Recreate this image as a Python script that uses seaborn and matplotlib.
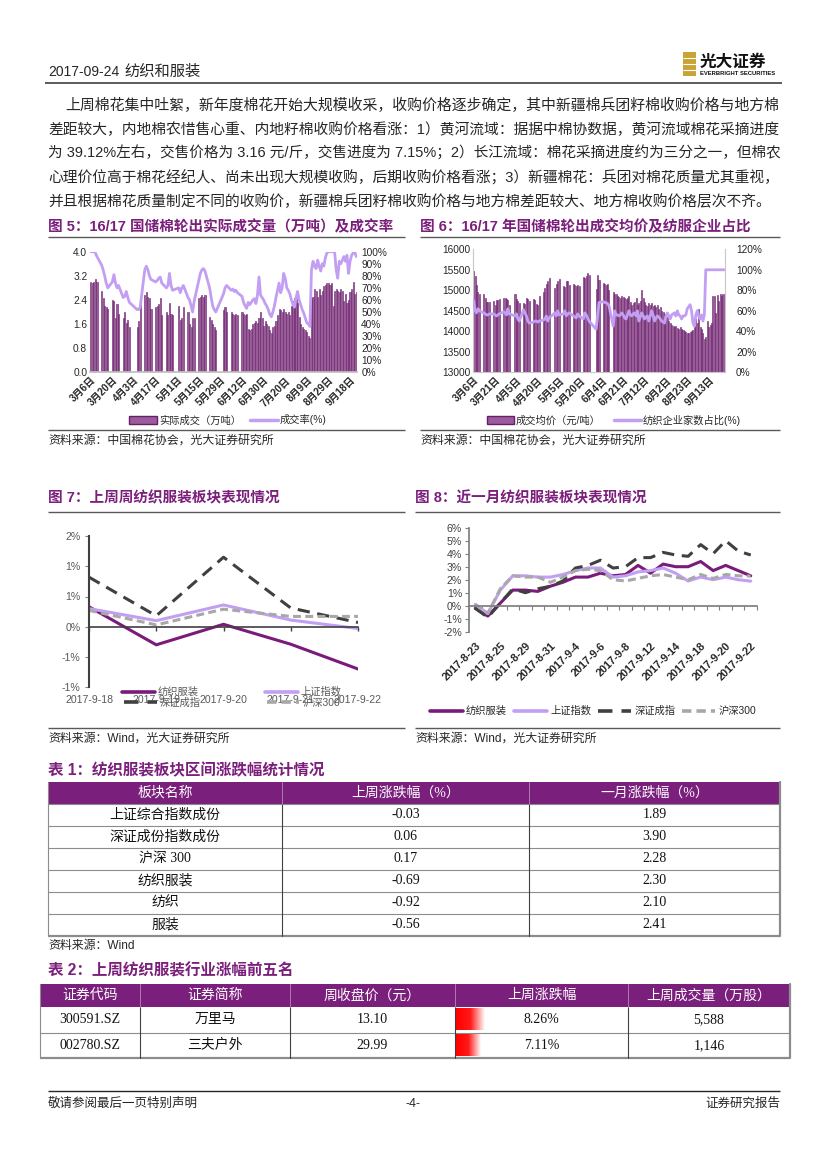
import numpy as np
import pandas as pd
import seaborn as sns
import matplotlib.pyplot as plt
from matplotlib.lines import Line2D
from matplotlib.patches import Rectangle, Patch
from matplotlib.colors import LinearSegmentedColormap

sns.set_theme(style='white')
plt.rcParams['font.family'] = ['Liberation Sans', 'Noto Sans CJK SC', 'DejaVu Sans']
plt.rcParams['axes.unicode_minus'] = False
SERIF = ['Liberation Serif', 'Noto Sans CJK SC', 'DejaVu Sans']

# ---------------- data ----------------
# 图5: 3/6 - 6/11 by calendar day (weekends / holidays blank), then trading days
labels_5 = ['3月6日', '3月20日', '4月3日', '4月17日', '5月1日', '5月15日', '5月29日',
            '6月12日', '6月30日', '7月20日', '8月9日', '8月29日', '9月18日']
N = None
vol_5 = [3.0, 2.95, 3.0, 3.1, 3.0, N, N,
         2.7, 2.45, 2.2, 2.15, 2.1, N, N,
         2.4, 2.35, 1.8, 2.25, 1.95, N, N,
         1.8, 2.0, 1.65, 1.75, 1.5, N, N,
         N, N, 1.5, 1.7, 2.3, N, N,
         2.55, 2.65, 2.5, 2.45, 2.1, N, N,
         2.15, 2.2, 2.25, 2.45, 1.9, N, N,
         2.0, 1.9, 2.3, 1.95, 1.9, N, N,
         N, 2.2, 1.75, 1.8, 2.15, N, N,
         2.0, 1.6, 1.5, 1.8, 1.8, N, N,
         2.45, 2.5, 2.55, 2.5, 2.55, N, N,
         1.85, 1.75, 1.6, 1.5, 1.4, N, N,
         N, N, 2.05, 2.15, 2.0, N, N,
         2.0, 1.95, 1.9, 1.95, 1.9, N, N,
         2.0, 1.95, 1.9, 1.95, 1.45, 1.4, 1.45, 1.6, 1.65, 1.7,
         1.65, 1.8, 2.0, 1.8, 1.55, 1.7, 1.6, 1.55, 1.4, 1.3,
         1.5, 1.55, 1.7, 1.9, 2.1, 2.05, 2.0, 2.1, 2.0, 1.95,
         2.0, 1.9, 2.2, 2.35, 2.45, 2.5, 2.3, 1.85, 1.6, 1.5,
         1.45, 1.4, 1.35, 1.2, 1.15, 2.45, 2.5, 2.75, 2.7, 2.5,
         2.75, 2.55, 2.7, 2.85, 2.9, 2.95, 2.95, 2.9, 2.95, 2.2,
         2.7, 2.75, 2.7, 2.65, 2.75, 2.7, 2.35, 2.6, 2.3, 2.4,
         2.65, 2.75, 3.0, 2.6, 2.65]
rate_5 = [100, 100, 100, 99, 96, N, N,
          89, 85, 80, 74, 70, N, N,
          75, 81, 74, 70, 72, N, N,
          62, 63, 67, 62, 58, N, N,
          N, N, 52, 52, 54, N, N,
          85, 88, 85, 80, 77, N, N,
          75, 76, 78, 79, 74, N, N,
          70, 72, 82, 72, 68, N, N,
          N, 70, 66, 70, 72, N, N,
          62, 60, 55, 50, 59, N, N,
          76, 82, 85, 86, 84, N, N,
          70, 62, 55, 52, 50, N, N,
          N, N, 65, 70, 72, N, N,
          68, 69, 67, 68, 66, N, N,
          63, 58, 55, 53, 58, 56, 58, 60, 61, 57,
          64, 79, 64, 62, 60, 57, 55, 52, 48, 46,
          50, 55, 62, 68, 74, 66, 70, 82, 78, 70,
          68, 65, 60, 56, 54, 62, 67, 60, 56, 52,
          49, 45, 41, 40, 38, 85, 92, 88, 86, 93,
          88, 84, 90, 88, 95, 99, 100, 100, 100, 100,
          100, 85, 78, 92, 90, 93, 96, 92, 97, 82,
          92, 97, 99, 100, 96]

# 图6
labels_6 = ['3月6日', '3月21日', '4月5日', '4月20日', '5月5日', '5月20日', '6月4日',
            '6月21日', '7月12日', '8月2日', '8月23日', '9月13日']
price_6 = [15480, 15350, 15130, 14950, 14900, N, N,
           14900, 14800, 14720, 14720, 14720, N, N,
           14730, 14650, 14760, 14770, 14780, N, N,
           14800, 14820, 14780, 14760, 14650, N, N,
           N, 14920, 14780, 14740, 14700, N, N,
           14700, 14660, 14800, 14780, 14750, N, N,
           14780, 14760, 14660, 14650, 14850, N, N,
           14950, 15050, 15150, 15220, 15300, N, N,
           N, 15050, 15150, 15220, 15270, N, N,
           15100, 15080, 15220, 15230, 15120, N, N,
           15150, 15120, 15100, 15130, 15100, N, N,
           15330, 15300, 15350, 15430, 15380, N, N,
           N, N, 15040, 15380, 15250, N, N,
           15180, 15160, 15130, 15150, 15000, N, N,
           14950, 14900, 14920, 14850, 14830, 14820, 14850, 14830, 14800, 14780,
           14800, 14850, 14720, 14650, 14700, 14720, 14800, 14650, 14700, 14750,
           15000, 14800, 14720, 14650, 14620, 14700, 14650, 14680, 14620, 14650,
           14600, 14650, 14550, 14600, 14500, 14480, 14420, 14380, 14350, 14250,
           14200, 14150, 14120, 14100, 14120, 14080, 14050, 14100, 14050, 14020,
           14000, 13980, 13960, 13950, 13980, 14000, 14020, 14100, 14300, 14200,
           14550, 14100, 14050, 13950, 13800, 13850, 14250, 14100, 14150, 14200,
           14850, 14870, 14450, 14880, 14750, 14900, 14850, 14920, 14900]
share_6 = [70, 60, 58, 62, 60, N, N,
           58, 57, 56, 56, 57, N, N,
           57, 56, 55, 56, 57, N, N,
           59, 58, 56, 62, 57, N, N,
           N, 55, 57, 52, 50, N, N,
           61, 58, 55, 50, 48, N, N,
           49, 50, 50, 49, 50, N, N,
           51, 52, 55, 50, 53, N, N,
           N, 58, 55, 60, 56, N, N,
           57, 60, 55, 57, 58, N, N,
           55, 54, 53, 57, 55, N, N,
           52, 58, 56, 53, 50, N, N,
           N, N, 42, 55, 68, N, N,
           69, 68, 68, 67, 65, N, N,
           45, 60, 56, 56, 55, 56, 58, 56, 53, 52,
           56, 60, 56, 55, 57, 58, 55, 60, 50, 54,
           58, 55, 52, 54, 55, 50, 55, 60, 56, 50,
           53, 55, 54, 52, 50, 49, 48, 55, 58, 55,
           52, 56, 57, 58, 55, 60, 56, 55, 52, 55,
           55, 56, 62, 64, 66, 60, 48, 45, 56, 60,
           55, 52, 56, 50, 56, 100, 100, 100, 100, 100,
           100, 100, 100, 100, 100, 100, 100, 100, 100]

# 图7
dates_7 = ['2017-9-18', '2017-9-19', '2017-9-20', '2017-9-21', '2017-9-22']
tex_7 = [0.33, -0.30, 0.04, -0.29, -0.70]
sh_7 = [0.30, 0.10, 0.36, 0.11, -0.03]
sz_7 = [0.82, 0.18, 1.15, 0.31, 0.07]
hs_7 = [0.27, 0.03, 0.29, 0.17, 0.17]
yticks_7 = [-1.0, -0.5, 0.0, 0.5, 1.0, 1.5]
ylabels_7 = ['-1%', '-1%', '0%', '1%', '1%', '2%']

# 图8
dates_8 = ['2017-8-23', '2017-8-24', '2017-8-25', '2017-8-28', '2017-8-29', '2017-8-30',
           '2017-8-31', '2017-9-1', '2017-9-4', '2017-9-5', '2017-9-6', '2017-9-7',
           '2017-9-8', '2017-9-11', '2017-9-12', '2017-9-13', '2017-9-14', '2017-9-15',
           '2017-9-18', '2017-9-19', '2017-9-20', '2017-9-21', '2017-9-22']
tex_8 = [-0.2, -0.8, 0.2, 1.2, 1.2, 1.1, 1.5, 1.8, 2.2, 2.2, 2.5, 2.3,
         2.4, 3.1, 2.5, 3.2, 3.0, 3.0, 3.4, 2.7, 3.1, 2.7, 2.3]
sh_8 = [0.1, -0.6, 1.2, 2.3, 2.3, 2.2, 2.2, 2.4, 2.7, 2.9, 2.9, 2.2,
        2.3, 2.6, 2.7, 2.9, 2.5, 1.9, 2.2, 2.0, 2.2, 2.0, 1.89]
sz_8 = [-0.2, -0.9, 0.2, 1.3, 1.0, 1.3, 1.5, 1.9, 2.9, 3.1, 3.5, 2.9,
        3.0, 3.7, 3.7, 4.1, 3.9, 3.8, 4.7, 4.0, 5.0, 4.2, 3.9]
hs_8 = [0.1, -0.6, 1.3, 2.3, 2.2, 2.2, 1.8, 2.2, 2.7, 2.8, 2.7, 2.0,
        1.9, 2.1, 2.3, 2.4, 2.2, 2.0, 2.4, 2.1, 2.4, 2.3, 2.28]
series_names = ['纺织服装', '上证指数', '深证成指', '沪深300']

# 表1
t1_header = ['板块名称', '上周涨跌幅（%）', '一月涨跌幅（%）']
t1_sector = ['上证综合指数成份', '深证成份指数成份', '沪深 300', '纺织服装', '纺织', '服装']
t1_week = ['-0.03', '0.06', '0.17', '-0.69', '-0.92', '-0.56']
t1_month = ['1.89', '3.90', '2.28', '2.30', '2.10', '2.41']

# 表2
t2_header = ['证券代码', '证券简称', '周收盘价（元）', '上周涨跌幅', '上周成交量（万股）']
t2_code = ['300591.SZ', '002780.SZ']
t2_name = ['万里马', '三夫户外']
t2_close = ['13.10', '29.99']
t2_chg = [8.26, 7.11]
t2_vol = ['5,588', '1,146']

text_lines = [
    '上周棉花集中吐絮，新年度棉花开始大规模收采，收购价格逐步确定，其中新疆棉兵团籽棉收购价格与地方棉',
    '差距较大，内地棉农惜售心重、内地籽棉收购价格看涨：1）黄河流域：据据中棉协数据，黄河流域棉花采摘进度',
    '为 39.12%左右，交售价格为 3.16 元/斤，交售进度为 7.15%；2）长江流域：棉花采摘进度约为三分之一，但棉农',
    '心理价位高于棉花经纪人、尚未出现大规模收购，后期收购价格看涨；3）新疆棉花：兵团对棉花质量尤其重视，',
    '并且根据棉花质量制定不同的收购价，新疆棉兵团籽棉收购价格与地方棉差距较大、地方棉收购价格层次不齐。',
]

# ---------------- styling ----------------
W, H = 827, 1169
TITLE_C = '#7B1E7C'
BAR_F = '#9A5C9A'
BAR_E = '#6A1C6A'
LAV = '#C29FF3'
DARKP = '#7A1A7B'
DGRAY = '#404040'
LGRAY = '#A8A8A8'
TXT = '#262626'
RULE = '#595959'

fig = plt.figure(figsize=(8.27, 11.69), dpi=100)
pg = fig.add_axes([0, 0, 1, 1])
pg.set_xlim(0, W)
pg.set_ylim(H, 0)
pg.axis('off')
rend = fig.canvas.get_renderer()


def ax_px(l, t, r, b):
    a = fig.add_axes([l / W, 1 - b / H, (r - l) / W, (b - t) / H])
    a.set_facecolor('none')
    return a


def hline(x0, x1, y, c=RULE, lw=1.0):
    pg.plot([x0, x1], [y, y], color=c, lw=lw, solid_capstyle='butt')


def put(x, y, s, size=9, color=TXT, ha='left', va='center', **kw):
    return pg.text(x, y, s, fontsize=size, color=color, ha=ha, va=va, **kw)


# header
put(48, 72, '2017-09-24', size=10)
put(124, 72, '纺织和服装', size=11)
hline(45, 782, 83, c=DGRAY, lw=1.2)
pg.add_patch(Rectangle((683, 52), 13, 24, facecolor='#C9A435', edgecolor='none'))
for yy in (58, 64, 70):
    hline(683, 696, yy, c='white', lw=0.8)
put(700, 62, '光大证券', size=12, color='#111', fontweight='bold')
put(700, 73.5, 'EVERBRIGHT SECURITIES', size=4.2, color='#111', fontweight='bold')

# paragraph: lines 1-4 fill the column width, the last line uses their mean size
sizes = []
for i, line in enumerate(text_lines):
    x0 = 65 if i == 0 else 48
    t = put(x0, 105 + 24.2 * i, line, size=11)
    if i < len(text_lines) - 1:
        w = t.get_window_extent(rend).width
        t.set_fontsize(11 * (780 - x0) / w)
        sizes.append(11 * (780 - x0) / w)
    else:
        t.set_fontsize(np.mean(sizes))

# titles and rules
TS = 10.5
put(48, 227, '图 5：16/17 国储棉轮出实际成交量（万吨）及成交率', size=TS, color=TITLE_C, fontweight='bold')
put(420, 227, '图 6：16/17 年国储棉轮出成交均价及纺服企业占比', size=TS, color=TITLE_C, fontweight='bold')
hline(48, 405, 237)
hline(420, 780, 237)
hline(48, 405, 430)
hline(420, 780, 430)
put(48, 441, '资料来源：中国棉花协会，光大证券研究所', size=8.6)
put(420, 441, '资料来源：中国棉花协会，光大证券研究所', size=8.6)

put(48, 498, '图 7：上周周纺织服装板块表现情况', size=TS, color=TITLE_C, fontweight='bold')
put(415, 498, '图 8：近一月纺织服装板块表现情况', size=TS, color=TITLE_C, fontweight='bold')
hline(48, 405, 512)
hline(415, 780, 512)
hline(48, 405, 728)
hline(415, 780, 728)
put(48, 739, '资料来源：Wind，光大证券研究所', size=8.6)
put(415, 739, '资料来源：Wind，光大证券研究所', size=8.6)


def rot_labels(ax, size):
    for lb in ax.get_xticklabels():
        lb.set_rotation(45)
        lb.set_ha('right')
        lb.set_rotation_mode('anchor')
        lb.set_fontsize(size)
        lb.set_fontweight('bold')
        lb.set_color(TXT)


# ---------------- 图5 ----------------
ax5 = ax_px(90, 251.7, 357, 372.3)
df5 = pd.DataFrame({'x': np.arange(len(vol_5)), 'vol': vol_5, 'rate': rate_5}).astype(float)
sns.barplot(data=df5.dropna(subset=['vol']), x='x', y='vol', native_scale=True, width=0.72,
            color=BAR_F, saturation=1, edgecolor=BAR_E, linewidth=0.4, errorbar=None, ax=ax5)
ax5.set_xlim(-0.5, len(vol_5) - 0.5)
ax5.set_ylim(0, 4)
ax5.set_yticks(np.arange(0, 4.01, 0.8))
ax5.set_yticklabels([f'{v:.1f}' for v in np.arange(0, 4.01, 0.8)])
ax5.set_xticks([14 * i for i in range(len(labels_5))])
ax5.set_xticklabels(labels_5)
ax5.set(xlabel='', ylabel='')
for s in ['top', 'right', 'left']:
    ax5.spines[s].set_visible(False)
ax5.spines['bottom'].set_color('#BFBFBF')
ax5.tick_params(axis='both', length=0, labelsize=7.3, colors=TXT, pad=2)
rot_labels(ax5, 7.2)
ax5r = ax5.twinx()
sns.lineplot(data=df5.dropna(subset=['rate']), x='x', y='rate', color=LAV, linewidth=2.0, ax=ax5r)
ax5r.set_ylim(0, 100)
ax5r.set_yticks(range(0, 101, 10))
ax5r.set_yticklabels([f'{v}%' for v in range(0, 101, 10)])
ax5r.set(xlabel='', ylabel='')
for s in ax5r.spines.values():
    s.set_visible(False)
ax5r.tick_params(axis='y', length=0, labelsize=7.3, colors=TXT, pad=3)
fig.legend([Patch(facecolor=BAR_F, edgecolor=BAR_E), Line2D([], [], color=LAV, lw=2.5)],
           ['实际成交（万吨）', '成交率(%)'], loc='center', bbox_to_anchor=(228 / W, 1 - 420 / H),
           ncol=2, frameon=False, fontsize=7.4, handlelength=2.7, handleheight=0.8,
           handletextpad=0.2, columnspacing=0.9, borderpad=0, labelcolor=TXT)

# ---------------- 图6 ----------------
ax6 = ax_px(473, 249.3, 725, 372.3)
df6 = pd.DataFrame({'x': np.arange(len(price_6)), 'price': price_6, 'share': share_6}).astype(float)
sns.barplot(data=df6.dropna(subset=['price']), x='x', y='price', native_scale=True, width=0.72,
            color=BAR_F, saturation=1, edgecolor=BAR_E, linewidth=0.4, errorbar=None, ax=ax6)
ax6.set_xlim(-0.5, len(price_6) - 0.5)
ax6.set_ylim(13000, 16000)
ax6.set_yticks(range(13000, 16001, 500))
ax6.set_xticks([15 * i for i in range(len(labels_6))])
ax6.set_xticklabels(labels_6)
ax6.set(xlabel='', ylabel='')
ax6.spines['top'].set_visible(False)
for s in ['left', 'right', 'bottom']:
    ax6.spines[s].set_color('#C8C8C8')
    ax6.spines[s].set_linewidth(0.8)
ax6.tick_params(axis='both', length=0, labelsize=7.3, colors=TXT, pad=2)
rot_labels(ax6, 7.2)
ax6r = ax6.twinx()
sns.lineplot(data=df6.dropna(subset=['share']), x='x', y='share', color=LAV, linewidth=2.0, ax=ax6r)
ax6r.set_ylim(0, 120)
ax6r.set_yticks(range(0, 121, 20))
ax6r.set_yticklabels([f'{v}%' for v in range(0, 121, 20)])
ax6r.set(xlabel='', ylabel='')
for s in ax6r.spines.values():
    s.set_visible(False)
ax6r.tick_params(axis='y', length=0, labelsize=7.3, colors=TXT, pad=8)
fig.legend([Patch(facecolor=BAR_F, edgecolor=BAR_E), Line2D([], [], color=LAV, lw=2.5)],
           ['成交均价（元/吨）', '纺织企业家数占比(%)'], loc='center', bbox_to_anchor=(614 / W, 1 - 420 / H),
           ncol=2, frameon=False, fontsize=7.4, handlelength=2.6, handleheight=0.8,
           handletextpad=0.2, columnspacing=1.3, borderpad=0, labelcolor=TXT)

# ---------------- 图7 / 图8 ----------------
palette = {'纺织服装': DARKP, '上证指数': LAV, '深证成指': DGRAY, '沪深300': LGRAY}
dash_map = {'纺织服装': '', '上证指数': '', '深证成指': (4, 2.5), '沪深300': (2.6, 1.4)}


def long_df(values, n):
    return pd.DataFrame({'x': np.tile(np.arange(n), 4),
                         'v': sum(values, []),
                         's': np.repeat(series_names, n)})


ax7 = ax_px(89, 536.1, 358, 687.1)
sns.lineplot(data=long_df([tex_7, sh_7, sz_7, hs_7], 5), x='x', y='v', hue='s', style='s',
             palette=palette, dashes=dash_map, linewidth=2.2, legend=False, ax=ax7)
ax7.set_xlim(0, 4)
ax7.set_ylim(-1.0, 1.5)
ax7.set_yticks(yticks_7)
ax7.set_yticklabels(ylabels_7)
ax7.set_xticks(range(len(dates_7)))
ax7.set_xticklabels(dates_7)
ax7.set(xlabel='', ylabel='')
ax7.spines['top'].set_visible(False)
ax7.spines['right'].set_visible(False)
ax7.spines['left'].set_color(DGRAY)
ax7.spines['left'].set_linewidth(1.5)
ax7.spines['bottom'].set_position(('data', 0))
ax7.spines['bottom'].set_color(DGRAY)
ax7.spines['bottom'].set_linewidth(1.2)
ax7.tick_params(axis='x', bottom=True, length=3, width=1, color=DGRAY, labelsize=7.6,
                labelcolor='#595959', pad=46)
ax7.tick_params(axis='y', left=True, length=3, width=0.8, color='#808080', labelsize=7.6,
                labelcolor='#595959', pad=3)

leg_kw = dict(loc='center', ncol=2, frameon=False, fontsize=7.4, handlelength=3.2,
              handletextpad=0.3, columnspacing=6.4, borderpad=0, labelcolor='#595959')


def handle(name):
    d = dash_map[name]
    h = Line2D([], [], color=palette[name], lw=2.6)
    if d:
        h.set_dashes(d)
    return h


fig.legend([handle('纺织服装'), handle('上证指数')], ['纺织服装', '上证指数'],
           bbox_to_anchor=(232 / W, 1 - 692 / H), **leg_kw)
fig.legend([handle('深证成指'), handle('沪深300')], ['深证成指', '沪深300'],
           bbox_to_anchor=(232 / W, 1 - 703 / H), **leg_kw)

ax8 = ax_px(469, 527.7, 757, 631.7)
sns.lineplot(data=long_df([tex_8, sh_8, sz_8, hs_8], len(dates_8)), x='x', y='v', hue='s', style='s',
             palette=palette, dashes=dash_map, linewidth=2.2, legend=False, ax=ax8)
ax8.set_xlim(-0.5, len(dates_8) - 0.5)
ax8.set_ylim(-2, 6)
ax8.set_yticks(range(-2, 7))
ax8.set_yticklabels([f'{v}%' for v in range(-2, 7)])
ax8.set_xticks(range(0, len(dates_8), 2))
ax8.set_xticklabels(dates_8[::2])
ax8.set_xticks(np.arange(-0.5, len(dates_8), 1), minor=True)
ax8.set(xlabel='', ylabel='')
ax8.spines['top'].set_visible(False)
ax8.spines['right'].set_visible(False)
ax8.spines['left'].set_color('#7F7F7F')
ax8.spines['bottom'].set_position(('data', 0))
ax8.spines['bottom'].set_color('#7F7F7F')
ax8.tick_params(axis='x', which='major', bottom=True, length=0, labelsize=7.8, pad=25)
ax8.tick_params(axis='x', which='minor', bottom=True, length=3, width=0.8, color='#7F7F7F')
ax8.tick_params(axis='y', left=True, length=3, width=0.8, color='#7F7F7F', labelsize=7.6,
                labelcolor='#404040', pad=2)
rot_labels(ax8, 7.8)
fig.legend([handle(n) for n in series_names], series_names, loc='center',
           bbox_to_anchor=(593 / W, 1 - 711 / H), ncol=4, frameon=False, fontsize=7.4,
           handlelength=3.2, handletextpad=0.3, columnspacing=0.7, borderpad=0, labelcolor=TXT)

# ---------------- 表1 ----------------
TBL_H = '#7B1F7C'
put(48, 771, '表 1：纺织服装板块区间涨跌幅统计情况', size=11.2, color=TITLE_C, fontweight='bold')
c1 = [48, 282, 529, 780]
top1, hh, rh = 782, 22, 22
pg.add_patch(Rectangle((c1[0], top1), c1[-1] - c1[0], hh, facecolor=TBL_H, edgecolor='none'))
for j, h in enumerate(t1_header):
    put((c1[j] + c1[j + 1]) / 2, top1 + hh / 2, h, size=10, color='white', ha='center', family=SERIF)
for i in range(len(t1_sector)):
    yc = top1 + hh + rh * i + rh / 2
    for j, v in enumerate([t1_sector[i], t1_week[i], t1_month[i]]):
        put((c1[j] + c1[j + 1]) / 2, yc, v, size=10, color='#111', ha='center', family=SERIF)
bot1 = top1 + hh + rh * len(t1_sector)
for i in range(1, len(t1_sector)):
    hline(c1[0], c1[-1], top1 + hh + rh * i, c='#8C8C8C', lw=0.8)
hline(c1[0], c1[-1], top1 + hh, c='#8C8C8C', lw=0.8)
hline(c1[0], c1[-1], bot1, c='#8C8C8C', lw=1.6)
for x in c1[1:-1]:
    pg.plot([x, x], [top1 + hh, bot1], color='#404040', lw=0.8)
    pg.plot([x, x], [top1, top1 + hh], color='#B58AB5', lw=0.6)
pg.plot([c1[0], c1[0]], [top1, bot1], color='#8C8C8C', lw=0.8)
pg.plot([c1[-1], c1[-1]], [top1, bot1], color='#8C8C8C', lw=1.6)
put(48, 946, '资料来源：Wind', size=8.6)

# ---------------- 表2 ----------------
put(48, 971, '表 2：上周纺织服装行业涨幅前五名', size=11.2, color=TITLE_C, fontweight='bold')
c2 = [40, 140, 290, 455, 628, 790]
top2, hh2, rh2 = 984, 23, 25.5
pg.add_patch(Rectangle((c2[0], top2), c2[-1] - c2[0], hh2, facecolor=TBL_H, edgecolor='none'))
for j, h in enumerate(t2_header):
    put((c2[j] + c2[j + 1]) / 2, top2 + hh2 / 2, h, size=10, color='white', ha='center', family=SERIF)
bot2 = top2 + hh2 + rh2 * len(t2_code)
axb = ax_px(c2[3] + 1, top2 + hh2, c2[4], bot2)
axb.axis('off')
red_white = LinearSegmentedColormap.from_list('rw', ['#FF0000', '#FF1A1A', '#FFFFFF'])
for i, v in enumerate(t2_chg):
    axb.imshow(np.linspace(0, 1, 256)[None, :], cmap=red_white, aspect='auto',
               extent=(0, v, i + 0.92, i + 0.08), interpolation='bilinear')
axb.set_xlim(0, 50)
axb.set_ylim(len(t2_chg), 0)
for i in range(len(t2_code)):
    yc = top2 + hh2 + rh2 * i + rh2 / 2
    row = [t2_code[i], t2_name[i], t2_close[i], f'{t2_chg[i]:.2f}%', t2_vol[i]]
    for j, v in enumerate(row):
        put((c2[j] + c2[j + 1]) / 2, yc, v, size=10, color='#111', ha='center', family=SERIF)
hline(c2[0], c2[-1], top2 + hh2 + rh2, c='#8C8C8C', lw=0.8)
hline(c2[0], c2[-1], bot2, c='#8C8C8C', lw=1.6)
for x in c2[1:-1]:
    pg.plot([x, x], [top2 + hh2, bot2], color='#404040', lw=0.8)
    pg.plot([x, x], [top2, top2 + hh2], color='#B58AB5', lw=0.6)
pg.plot([c2[0], c2[0]], [top2, bot2], color='#8C8C8C', lw=0.8)
pg.plot([c2[-1], c2[-1]], [top2, bot2], color='#8C8C8C', lw=1.6)

# footer
hline(48, 780, 1091, c='#262626', lw=1.0)
put(48, 1104, '敬请参阅最后一页特别声明', size=9)
put(413, 1104, '-4-', size=9, ha='center')
put(780, 1104, '证券研究报告', size=9, ha='right')

fig.savefig('out.png', dpi=100)
